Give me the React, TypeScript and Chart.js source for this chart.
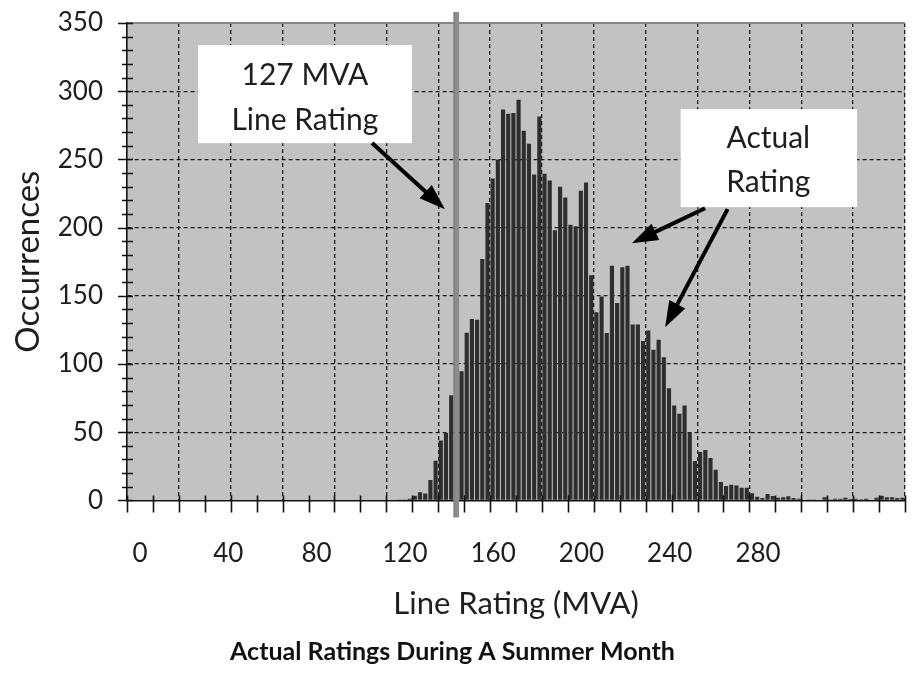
import { useEffect, useRef } from "react";
import { Chart, registerables } from "chart.js";

Chart.register(...registerables);

// ---- Data (bin centres in MVA, 2 MVA wide bins) ----
const binCenters = [
  105, 107, 109, 111, 113, 115, 117, 119, 121, 123,
  125, 127, 129, 131, 133, 135, 137, 139, 141, 143,
  145, 147, 149, 151, 153, 155, 157, 159, 161, 163,
  165, 167, 169, 171, 173, 175, 177, 179, 181, 183,
  185, 187, 189, 191, 193, 195, 197, 199, 201, 203,
  205, 207, 209, 211, 213, 215, 217, 219, 221, 223,
  225, 227, 229, 231, 233, 235, 237, 239, 241, 243,
  245, 247, 249, 251, 253, 255, 257, 259, 261, 263,
  265, 267, 269, 271, 273, 275, 277, 279, 281, 283,
  285, 287, 289, 291, 293, 295, 297, 299,
];

const occurrences = [
  0.3, 0.7, 1.2, 3.5, 6, 5, 15, 29, 44, 49.5,
  77, 87.5, 94.6, 123, 133, 132.4, 177, 218, 236, 250,
  286.6, 283.5, 284, 293.8, 271, 261.5, 239, 281.5, 239.5, 234.6,
  198, 230, 222, 202, 201, 227, 233, 165, 138, 149.5,
  122.7, 172, 144.7, 171, 172, 129, 129, 116.8, 124.6, 110.5,
  117.8, 105, 82.3, 69.6, 63.5, 69.6, 49.4, 28.8, 35.5, 37,
  31, 22.5, 13.4, 10.5, 11.5, 11, 9.3, 9.3, 5.2, 2.7,
  1.8, 4.7, 3.2, 2, 2.4, 3, 1.8, 1.2, 0.5, 0.3,
  0.3, 0, 2.4, 0.7, 1.2, 1.2, 2, 1, 1.2, 0.8,
  1.2, 0.5, 2, 3.4, 2.4, 2.4, 1.7, 2,
];

const xTickLabels = [0, 40, 80, 120, 160, 200, 240, 280];
const yTickLabels = [0, 50, 100, 150, 200, 250, 300, 350];

const lineRatingMVA = 127;
const xTitle = "Line Rating (MVA)";
const yTitle = "Occurrences";
const chartTitle = "Actual Ratings During A Summer Month";

const ratingNote = ["127 MVA", "Line Rating"];
const actualNote = ["Actual", "Rating"];

// ---- Scale ranges & data-space anchors for annotations ----
const X_MIN = 0;
const X_MAX = 300;
const Y_MIN = 0;
const Y_MAX = 350;
const LABEL_AXIS_MIN = -5.9;
const LABEL_AXIS_MAX = 346.6;

const noteBoxes = [
  { x0: 27.4, x1: 109.9, y0: 261.9, y1: 333.8, cx: 68.6, lineY: [311.8, 278.8], lines: ratingNote },
  { x0: 213.5, x1: 281.5, y0: 215, y1: 286.9, cx: 247.3, lineY: [265.6, 233.3], lines: actualNote },
];

const arrows = [
  { from: [94.5, 262], to: [122.6, 213.5] },
  { from: [222.9, 214.2], to: [194.7, 188.6] },
  { from: [231.6, 213.5], to: [207.5, 126.9] },
];

const FONT = "Lato, 'Noto Sans', sans-serif";
const TEXT = "#1e1e1e";
const PLOT_BG = "#c2c2c2";
const GRID = "#1a1a1a";

const plotBgPlugin = {
  id: "plotBg",
  beforeDraw(chart: any) {
    const { ctx, chartArea } = chart;
    ctx.save();
    ctx.fillStyle = PLOT_BG;
    ctx.fillRect(chartArea.left, chartArea.top, chartArea.right - chartArea.left, chartArea.bottom - chartArea.top);
    ctx.restore();
  },
};

const tickPlugin = {
  id: "crossTicks",
  afterDatasetsDraw(chart: any) {
    const { ctx, chartArea, scales } = chart;
    const xs = scales.x;
    const ys = scales.y;
    ctx.save();
    ctx.strokeStyle = "#111";
    ctx.lineWidth = 1.6;
    ctx.beginPath();
    xs.ticks.forEach((t: any) => {
      const px = Math.round(xs.getPixelForValue(t.value)) + 0.5;
      ctx.moveTo(px, chartArea.bottom - 5);
      ctx.lineTo(px, chartArea.bottom + 12);
    });
    ys.ticks.forEach((t: any) => {
      const py = Math.round(ys.getPixelForValue(t.value)) + 0.5;
      const major = t.value % 50 === 0;
      ctx.moveTo(chartArea.left - (major ? 9 : 5), py);
      ctx.lineTo(chartArea.left + 6, py);
    });
    ctx.stroke();
    ctx.restore();
  },
};

const notesPlugin = {
  id: "notes",
  afterDraw(chart: any) {
    const { ctx, chartArea, scales } = chart;
    const X = (v: number) => scales.x.getPixelForValue(v);
    const Y = (v: number) => scales.y.getPixelForValue(v);
    ctx.save();

    // 127 MVA line
    const lx = X(lineRatingMVA);
    ctx.fillStyle = "#8c8c8c";
    ctx.fillRect(lx - 2.75, chartArea.top - 11, 5.5, chartArea.bottom - chartArea.top + 28);
    ctx.fillStyle = "#777";
    ctx.fillRect(lx - 2.75, chartArea.top - 11, 1, chartArea.bottom - chartArea.top + 28);

    // boxes
    noteBoxes.forEach((b) => {
      ctx.fillStyle = "#ffffff";
      ctx.fillRect(X(b.x0), Y(b.y1), X(b.x1) - X(b.x0), Y(b.y0) - Y(b.y1));
      ctx.fillStyle = TEXT;
      ctx.font = `30px ${FONT}`;
      ctx.textAlign = "center";
      ctx.textBaseline = "middle";
      b.lines.forEach((ln, i) => ctx.fillText(ln, X(b.cx), Y(b.lineY[i])));
    });

    // arrows
    arrows.forEach((a) => {
      const x0 = X(a.from[0]);
      const y0 = Y(a.from[1]);
      const x1 = X(a.to[0]);
      const y1 = Y(a.to[1]);
      const ang = Math.atan2(y1 - y0, x1 - x0);
      const head = 26;
      const half = 9;
      const bx = x1 - head * Math.cos(ang);
      const by = y1 - head * Math.sin(ang);
      ctx.strokeStyle = "#000";
      ctx.lineWidth = 4;
      ctx.lineCap = "butt";
      ctx.beginPath();
      ctx.moveTo(x0, y0);
      ctx.lineTo(bx + 4 * Math.cos(ang), by + 4 * Math.sin(ang));
      ctx.stroke();
      ctx.fillStyle = "#000";
      ctx.beginPath();
      ctx.moveTo(x1, y1);
      ctx.lineTo(bx + half * Math.sin(ang), by - half * Math.cos(ang));
      ctx.lineTo(bx - half * Math.sin(ang), by + half * Math.cos(ang));
      ctx.closePath();
      ctx.fill();
    });
    ctx.restore();
  },
};

export default function App() {
  const canvasRef = useRef<HTMLCanvasElement | null>(null);

  useEffect(() => {
    if (!canvasRef.current) return;
    const chart = new Chart(canvasRef.current, {
      type: "bar",
      data: {
        datasets: [
          {
            label: yTitle,
            data: binCenters.map((c, i) => ({ x: c, y: occurrences[i] })),
            backgroundColor: "#2e2e2e",
            borderWidth: 0,
            barPercentage: 0.8,
            categoryPercentage: 1.0,
          },
        ],
      },
      options: {
        animation: false,
        responsive: false,
        devicePixelRatio: 1,
        layout: { padding: { top: 23, right: 7, left: 0, bottom: 0 } },
        plugins: {
          legend: { display: false },
          tooltip: { enabled: false },
          title: {
            display: true,
            text: chartTitle,
            position: "bottom",
            color: "#111",
            font: { family: FONT, size: 25, weight: "bold" },
            padding: { top: 0, bottom: 6 },
          },
        },
        scales: {
          x: {
            type: "linear",
            position: "bottom",
            bounds: "data",
            weight: 0,
            min: X_MIN,
            max: X_MAX,
            offset: false,
            ticks: { display: false, stepSize: 10, includeBounds: false },
            grid: {
              offset: false,
              drawTicks: false,
              lineWidth: 1.3,
              color: (c: any) => (c.tick && c.tick.value % 20 === 0 && c.tick.value !== 0 ? GRID : "rgba(0,0,0,0)"),
            },
            border: { display: true, color: "#111", width: 1.6, dash: [4, 3] },
            afterFit: (s: any) => {
              s.height = 0;
              s.paddingLeft = 0;
              s.paddingRight = 0;
            },
          },
          x2: {
            type: "linear",
            position: "bottom",
            bounds: "data",
            weight: 1,
            offset: false,
            min: LABEL_AXIS_MIN,
            max: LABEL_AXIS_MAX,
            afterBuildTicks: (s: any) => {
              s.ticks = xTickLabels.map((v) => ({ value: v }));
            },
            ticks: {
              autoSkip: false,
              maxRotation: 0,
              minRotation: 0,
              color: TEXT,
              padding: 30,
              font: { family: FONT, size: 26 },
              callback: (v: any) => String(v),
            },
            grid: { display: false, offset: false },
            border: { display: false },
            title: {
              display: true,
              text: xTitle,
              color: TEXT,
              font: { family: FONT, size: 31 },
              padding: { top: 0, bottom: 14 },
            },
            afterFit: (s: any) => {
              s.height = 136.6;
              s.paddingLeft = 0;
              s.paddingRight = 0;
            },
          },
          y: {
            type: "linear",
            bounds: "data",
            min: Y_MIN,
            max: Y_MAX,
            ticks: {
              stepSize: 10,
              color: TEXT,
              padding: 24,
              autoSkip: false,
              font: { family: FONT, size: 26 },
              callback: (v: any) => (yTickLabels.includes(Number(v)) ? String(v) : ""),
            },
            grid: {
              drawTicks: false,
              lineWidth: (c: any) => (c.tick && c.tick.value === Y_MAX ? 2 : 1.3),
              color: (c: any) => {
                if (!c.tick) return "rgba(0,0,0,0)";
                if (c.tick.value === Y_MAX) return "#858585";
                if (c.tick.value === 0) return "rgba(0,0,0,0)";
                return c.tick.value % 50 === 0 ? GRID : "rgba(0,0,0,0)";
              },
            },
            border: {
              display: true,
              color: "#111",
              width: 1.6,
              dash: (c: any) => (c.tick && c.tick.value === Y_MAX ? [] : [4, 3]),
            },
            title: {
              display: true,
              text: yTitle,
              color: TEXT,
              font: { family: FONT, size: 33 },
              padding: { top: 9, bottom: 0 },
            },
            afterFit: (s: any) => {
              s.width = 127;
              s.paddingTop = 0;
              s.paddingBottom = 0;
            },
          },
        },
      },
      plugins: [plotBgPlugin, tickPlugin, notesPlugin],
    } as any);
    return () => chart.destroy();
  }, []);

  return (
    <div style={{ position: "absolute", left: 0, top: 0, width: 912, height: 673 }}>
      <canvas ref={canvasRef} width={912} height={673} />
    </div>
  );
}
